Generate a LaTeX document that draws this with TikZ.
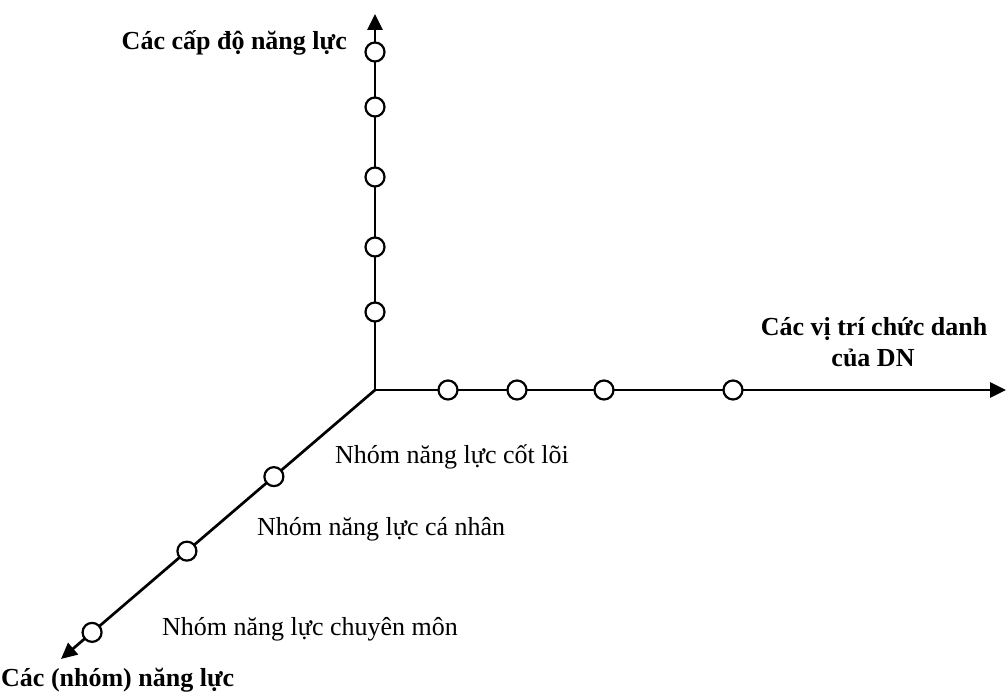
\documentclass[tikz,border=0pt]{standalone}
\usepackage{fontspec}
\setmainfont{Liberation Serif}
\usetikzlibrary{arrows.meta}
\begin{document}
\begin{tikzpicture}[x=1pt,y=-1pt,
  axis/.style={line width=2.7pt,-{Triangle[length=16pt,width=15pt]}},
  tick/.style={circle,draw,line width=2.2pt,fill=white,minimum size=19pt,inner sep=0pt},
  axislabel/.style={font=\fontsize{26}{31}\selectfont\bfseries,inner sep=0pt},
  grouplabel/.style={font=\fontsize{26}{31}\selectfont,inner sep=0pt}]
\useasboundingbox (0,0) rectangle (1006,693);

% origin and the three axis ends
\coordinate (O) at (375,390);
\coordinate (Ytip) at (375,14);
\coordinate (Xtip) at (1006,390);
\coordinate (Ztip) at (61,659);

\draw[axis] (O) -- (Ytip);
\draw[axis] (O) -- (Xtip);
\draw[axis] (O) -- (Ztip);

% levels on the vertical axis
\foreach \y [count=\i] in {52,107,177,247,312}
  \node[tick] (y\i) at (375,\y) {};

% job positions on the horizontal axis
\foreach \x [count=\i] in {448,517,604,733}
  \node[tick] (x\i) at (\x,390) {};

% competency groups on the oblique axis
\path (O) -- (Ztip)
  node[tick,pos=0.322] (z1) {}
  node[tick,pos=0.599] (z2) {}
  node[tick,pos=0.901] (z3) {};

% axis titles
\node[axislabel,anchor=base east] (ylab) at (347,50) {Các cấp độ năng lực};
\node[axislabel,anchor=base] (xlab1) at (874,335) {Các vị trí chức danh};
\node[axislabel,anchor=base] (xlab2) at (873,366) {của DN};
\node[axislabel,anchor=base west] (zlab) at (1,686) {Các (nhóm) năng lực};

% group names
\node[grouplabel,anchor=base west] (g1) at (335,463) {Nhóm năng lực cốt lõi};
\node[grouplabel,anchor=base west] (g2) at (257,535) {Nhóm năng lực cá nhân};
\node[grouplabel,anchor=base west] (g3) at (162,635) {Nhóm năng lực chuyên môn};
\end{tikzpicture}
\end{document}
